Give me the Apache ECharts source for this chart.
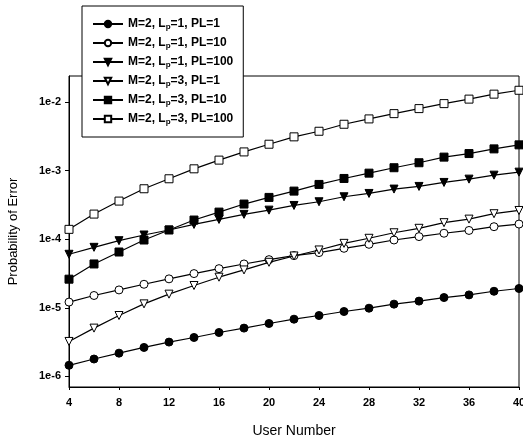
<!DOCTYPE html>
<html>
<head>
<meta charset="utf-8">
<script src="https://cdn.jsdelivr.net/npm/echarts@6/dist/echarts.min.js"></script>
<style>
html,body{margin:0;padding:0;background:#fff;}
#chart{width:523px;height:440px;}
</style>
</head>
<body>
<div id="chart"></div>
<script>
var userNumbers = [4, 6, 8, 10, 12, 14, 16, 18, 20, 22, 24, 26, 28, 30, 32, 34, 36, 38, 40];
var xTicks = [4, 8, 12, 16, 20, 24, 28, 32, 36, 40];
var yTickValues = [1e-6, 1e-5, 1e-4, 1e-3, 1e-2];
var yTickLabels = ['1e-6', '1e-5', '1e-4', '1e-3', '1e-2'];

var seriesNames = [
  'M=2, Lp=1, PL=1',
  'M=2, Lp=1, PL=10',
  'M=2, Lp=1, PL=100',
  'M=2, Lp=3, PL=1',
  'M=2, Lp=3, PL=10',
  'M=2, Lp=3, PL=100'
];

var lp1pl1 = [1.45e-6, 1.79e-6, 2.18e-6, 2.64e-6, 3.16e-6, 3.69e-6, 4.36e-6, 5.05e-6, 5.9e-6, 6.82e-6, 7.71e-6, 8.82e-6, 9.86e-6, 1.13e-5, 1.25e-5, 1.41e-5, 1.54e-5, 1.74e-5, 1.91e-5];
var lp1pl10 = [1.21e-5, 1.51e-5, 1.82e-5, 2.2e-5, 2.64e-5, 3.15e-5, 3.72e-5, 4.35e-5, 5.03e-5, 5.75e-5, 6.37e-5, 7.36e-5, 8.41e-5, 9.72e-5, 1.09e-4, 1.22e-4, 1.34e-4, 1.52e-4, 1.66e-4];
var lp1pl100 = [6.02e-5, 7.6e-5, 9.5e-5, 1.15e-4, 1.36e-4, 1.64e-4, 1.94e-4, 2.3e-4, 2.65e-4, 3.1e-4, 3.51e-4, 4.15e-4, 4.64e-4, 5.37e-4, 5.87e-4, 6.71e-4, 7.5e-4, 8.57e-4, 9.48e-4];
var lp3pl1 = [3.23e-6, 5.05e-6, 7.71e-6, 1.14e-5, 1.58e-5, 2.11e-5, 2.79e-5, 3.56e-5, 4.6e-5, 5.69e-5, 6.96e-5, 8.69e-5, 1.03e-4, 1.24e-4, 1.44e-4, 1.74e-4, 1.96e-4, 2.35e-4, 2.62e-4];
var lp3pl10 = [2.61e-5, 4.35e-5, 6.5e-5, 9.72e-5, 1.36e-4, 1.9e-4, 2.48e-4, 3.25e-4, 4.06e-4, 5.02e-4, 6.28e-4, 7.67e-4, 9.17e-4, 1.1e-3, 1.3e-3, 1.57e-3, 1.77e-3, 2.07e-3, 2.37e-3];
var lp3pl100 = [1.39e-4, 2.32e-4, 3.59e-4, 5.43e-4, 7.59e-4, 1.06e-3, 1.42e-3, 1.87e-3, 2.42e-3, 3.1e-3, 3.74e-3, 4.73e-3, 5.66e-3, 6.76e-3, 8.0e-3, 9.46e-3, 1.1e-2, 1.3e-2, 1.48e-2];

var allValues = [lp1pl1, lp1pl10, lp1pl100, lp3pl1, lp3pl10, lp3pl100];
var symbols = ['circle', 'circle', 'triangle', 'triangle', 'rect', 'rect'];
var filled = [true, false, true, false, true, false];
var sizes = [8, 8, 8, 8, 8, 8];

var FONT = '"Liberation Sans", Arial, sans-serif';

var chart = echarts.init(document.getElementById('chart'), null, {renderer: 'canvas'});

var series = allValues.map(function (vals, i) {
  return {
    name: seriesNames[i],
    type: 'line',
    data: userNumbers.map(function (x, j) { return [x, vals[j]]; }),
    symbol: symbols[i],
    symbolSize: sizes[i],
    symbolRotate: symbols[i] === 'triangle' ? 180 : 0,
    showAllSymbol: true,
    animation: false,
    z: 3 + i,
    lineStyle: {color: '#000', width: 1.2},
    itemStyle: {color: filled[i] ? '#000' : '#fff', borderColor: '#000', borderWidth: 1}
  };
});

chart.setOption({
  backgroundColor: '#fff',
  animation: false,
  grid: {left: 69, right: 4, top: 76, bottom: 53, show: true, borderColor: '#000', borderWidth: 1, backgroundColor: 'transparent', outerBoundsMode: 'none', containLabel: false},
  legend: {
    orient: 'vertical',
    left: 82,
    top: 6,
    padding: [11, 10, 11, 10],
    itemGap: 5,
    itemWidth: 30,
    itemHeight: 8,
    backgroundColor: '#fff',
    borderColor: '#000',
    borderWidth: 1,
    z: 20,
    data: seriesNames,
    formatter: function (name) {
      var parts = name.split('Lp');
      return '{t|' + parts[0] + 'L}{s|p}{t|' + parts[1] + '}';
    },
    textStyle: {
      fontFamily: FONT, fontSize: 12, fontWeight: 'bold', color: '#000',
      rich: {
        t: {fontFamily: FONT, fontSize: 12, fontWeight: 'bold', color: '#000', lineHeight: 14},
        s: {fontFamily: FONT, fontSize: 8, fontWeight: 'bold', color: '#000', lineHeight: 14, padding: [6, 0, 0, 0]}
      }
    }
  },
  xAxis: {
    type: 'value',
    min: 4,
    max: 40,
    interval: 4,
    name: 'User Number',
    nameLocation: 'middle',
    nameGap: 37,
    nameTextStyle: {fontFamily: FONT, fontSize: 14, color: '#000'},
    axisLine: {lineStyle: {color: '#000', width: 1}},
    axisTick: {show: true, inside: false, length: 3, lineStyle: {color: '#000'}},
    splitLine: {show: false},
    axisLabel: {
      fontFamily: FONT, fontSize: 11, fontWeight: 'bold', color: '#000', margin: 10,
      formatter: function (v) { return xTicks.indexOf(v) >= 0 ? String(v) : ''; }
    }
  },
  yAxis: {
    type: 'log',
    logBase: 10,
    min: 7.0e-7,
    max: 0.0239,
    name: 'Probability of Error',
    nameLocation: 'middle',
    nameGap: 49,
    nameRotate: 90,
    nameTextStyle: {fontFamily: FONT, fontSize: 13, color: '#000'},
    axisLine: {show: true, lineStyle: {color: '#000', width: 1}},
    axisTick: {show: true, inside: false, length: 4, lineStyle: {color: '#000'}, customValues: yTickValues},
    splitLine: {show: false},
    axisLabel: {
      fontFamily: FONT, fontSize: 11, fontWeight: 'bold', color: '#000', margin: 8,
      customValues: yTickValues,
      formatter: function (v) {
        for (var i = 0; i < yTickValues.length; i++) {
          if (Math.abs(Math.log10(v) - Math.log10(yTickValues[i])) < 1e-6) return yTickLabels[i];
        }
        return '';
      }
    }
  },
  series: series
});
</script>
</body>
</html>
